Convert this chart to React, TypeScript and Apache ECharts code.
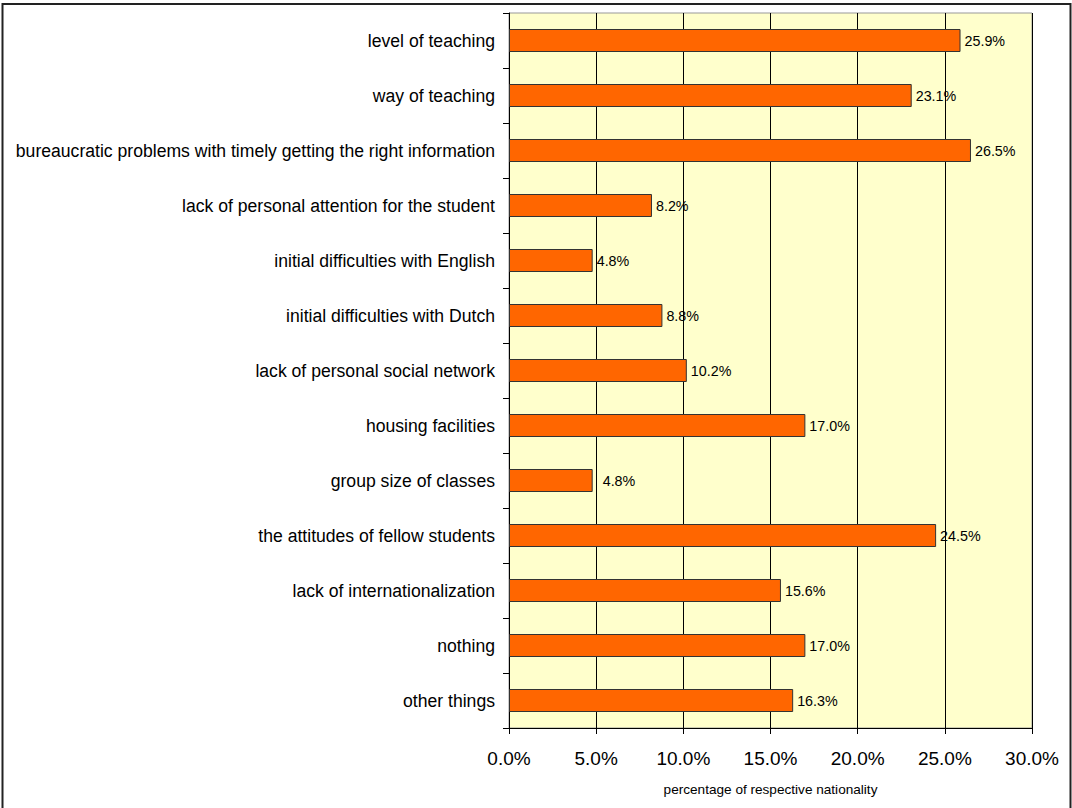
import React, { useEffect, useRef } from "react";
import * as echarts from "echarts";

const categories = [
  "level of teaching",
  "way of teaching",
  "bureaucratic problems with timely getting the right information",
  "lack of personal attention for the student",
  "initial difficulties with English",
  "initial difficulties with Dutch",
  "lack of personal social network",
  "housing facilities",
  "group size of classes",
  "the attitudes of fellow students",
  "lack of internationalization",
  "nothing",
  "other things",
];

const values = [25.9, 23.1, 26.5, 8.2, 4.8, 8.8, 10.2, 17.0, 4.8, 24.5, 15.6, 17.0, 16.3];

const xTicks = [0, 5, 10, 15, 20, 25, 30];

export default function App() {
  const ref = useRef<HTMLDivElement>(null);
  useEffect(() => {
    document.body.style.margin = "0";
    const chart = echarts.init(ref.current!, null, { renderer: "svg" });
    const font = "'Liberation Sans', Arial, sans-serif";
    chart.setOption({
      animation: false,
      textStyle: { fontFamily: font },
      graphic: [
        {
          type: "rect",
          shape: { x: 2.5, y: 4, width: 1068, height: 812 },
          style: { fill: "none", stroke: "#222", lineWidth: 2 },
          silent: true,
        },
      ],
      grid: {
        left: 509,
        top: 13,
        width: 523,
        height: 715,
        show: true,
        backgroundColor: "#FFFFCC",
        borderColor: "#999",
        borderWidth: 1,
      },
      xAxis: {
        type: "value",
        min: xTicks[0],
        max: xTicks[xTicks.length - 1],
        interval: 5,
        axisLine: { show: true, lineStyle: { color: "#000", width: 1 } },
        axisTick: { show: true, length: 6, lineStyle: { color: "#000" } },
        splitLine: { show: true, lineStyle: { color: "#000", width: 1 } },
        axisLabel: {
          color: "#000",
          fontSize: 19,
          margin: 21,
          fontFamily: font,
          formatter: (v: number) => v.toFixed(1) + "%",
        },
        name: "percentage of respective nationality",
        nameLocation: "middle",
        nameGap: 54,
        nameTextStyle: { fontSize: 13.6, color: "#000", fontFamily: font },
      },
      yAxis: {
        type: "category",
        data: categories,
        inverse: true,
        axisLine: { show: true, lineStyle: { color: "#000", width: 1 } },
        axisTick: { show: true, length: 6, lineStyle: { color: "#000" } },
        axisLabel: { color: "#000", fontSize: 17.6, margin: 14, fontFamily: font },
        splitLine: { show: false },
      },
      series: [
        {
          type: "bar",
          data: values.map((v, i) =>
            i === 8 ? { value: v, label: { distance: 10 } } : v
          ),
          barWidth: 23,
          itemStyle: { color: "#FF6600", borderColor: "#333", borderWidth: 1 },
          label: {
            show: true,
            position: "right",
            distance: 4,
            fontSize: 14.3,
            color: "#000",
            fontFamily: font,
            formatter: (p: any) => Number(p.value).toFixed(1) + "%",
          },
        },
      ],
    });
    return () => chart.dispose();
  }, []);
  return <div ref={ref} style={{ width: 1072, height: 808 }} />;
}
